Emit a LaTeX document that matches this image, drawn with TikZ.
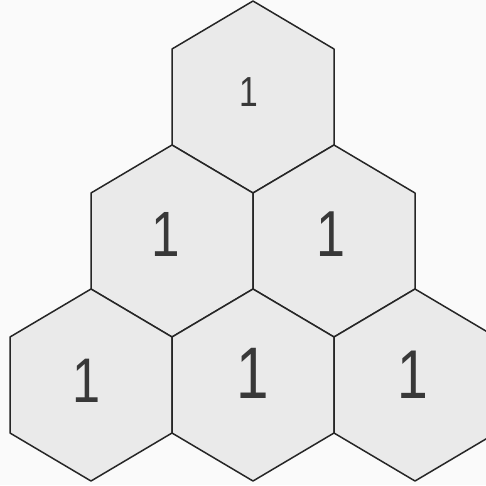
\documentclass[tikz,border=0pt]{standalone}
\usepackage{fontspec}
\IfFontExistsTF{FiraSans-Light.otf}{\newfontfamily\onefont[FakeStretch=0.8]{FiraSans-Light.otf}}{\newfontfamily\onefont[FakeStretch=0.8]{Liberation Sans}}
\definecolor{hexfill}{HTML}{EAEAEA}
\definecolor{hexline}{HTML}{262626}
\definecolor{digitcol}{HTML}{383838}
\definecolor{paper}{HTML}{FAFAFA}
\tikzset{
  hexcell/.style={fill=hexfill,draw=hexline,line width=1.5pt,line join=round},
  digit/.style={text=digitcol,inner sep=0pt,outer sep=0pt}
}
\newcommand{\digitsize}[1]{\onefont\fontsize{#1}{#1}\selectfont}
\begin{document}
\begin{tikzpicture}[x=1pt,y=-1pt]
\fill[paper] (0,0) rectangle (486,485);
\useasboundingbox (0,0) rectangle (486,485);
\begin{scope}
\clip (0,0) rectangle (486,485);
\foreach \cx/\cy in {253/97, 172/241, 334/241, 91/385, 253/385, 415/385}{
  \draw[hexcell] (\cx,\cy-96) -- ++(81,48) -- ++(0,96) -- ++(-81,48)
    -- ++(-81,-48) -- ++(0,-96) -- cycle;
}
\end{scope}
\node[digit,font=\digitsize{42}] (d1) at (249,92) {1};
\node[digit,font=\digitsize{64}] (d2) at (166,234) {1};
\node[digit,font=\digitsize{65}] (d3) at (331,234) {1};
\node[digit,font=\digitsize{63}] (d4) at (87,381) {1};
\node[digit,font=\digitsize{73}] (d5) at (253,373) {1};
\node[digit,font=\digitsize{69}] (d6) at (413,375) {1};
\end{tikzpicture}
\end{document}
